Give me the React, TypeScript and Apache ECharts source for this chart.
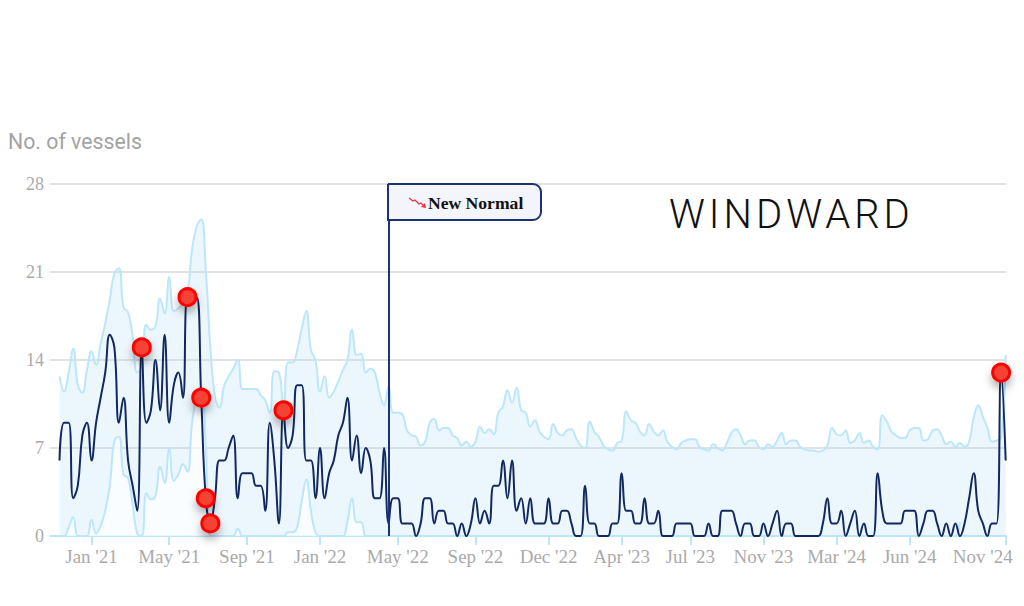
import React, { useEffect, useRef } from "react";
import * as echarts from "echarts";

const vessels = [
  6,9,9,3,4,8,9,6,9,11, 13,16,15,9,11,6,4,2,15,9, 10,14,10,16,9,12,13,11,19,19,
  19,11,3,1,3,6,6,7,8,3, 5,5,5,4,4,2,9,6,1,10, 7,8,12,12,6,6,3,7,3,5,
  6,8,9,11,6,8,5,7,6,3, 3,7,1,3,3,1,1,1,0,1, 3,3,1,2,2,1,1,0,1,0,
  1,3,1,2,1,4,4,6,3,6, 2,3,1,3,1,1,1,3,1,1, 2,2,1,0,0,4,1,1,0,0,
  0,1,1,5,2,2,1,1,3,1, 1,2,0,0,0,1,1,1,1,0, 0,0,1,0,0,2,2,2,1,0,
  1,1,0,0,1,0,1,2,0,1, 1,0,0,0,0,0,0,1,3,1, 1,2,0,1,2,0,1,0,0,5,
  2,1,1,1,1,2,2,2,0,1, 2,2,1,0,1,0,1,0,1,3, 5,2,1,0,1,1,13,6,
];
const upperBand = [
  12.7,11.5,13,14.9,12,11.4,13.2,14.7,13.6,15.3,
  16.9,18.8,20.9,21.3,18.2,17.8,15.9,13,13.5,16.8,
  16.4,16.7,18.9,17.7,20.6,17.9,18.1,18.5,19.3,22.8,
  24.6,25.2,21.2,15,11.1,10.2,11.9,12.7,13.3,14,
  11.7,11.7,11.7,11.7,11.2,10.8,9.8,13.1,13,10.3,
  13.8,13.8,14.8,16.5,17.9,14.8,14,11.5,12.7,11,
  11.5,12.3,13.2,14,16.4,14.4,14.5,13,13.3,13,
  11.4,10.4,11.9,9.8,9.8,
  9.7,8.4,8,7.9,7.2,7.5,9,9.3,8.4,8.6,
  8.6,8,7.8,7.2,7.5,7.1,7.5,8.7,8.2,8.5,
  8.1,9.8,10.3,11.6,10.6,11.8,10,9.8,8.7,9.2,
  8.3,7.9,7.7,8.9,8.2,8,8.4,8.5,7.8,7.2,
  7,9.1,8.3,7.9,7.2,6.9,6.8,7.4,7.6,9.9,
  9.2,9,8.3,8,8.9,8.3,8,8.4,7.5,7.1,
  6.9,7.4,7.6,7.7,7.7,7.1,6.9,6.8,7.3,7,
  6.8,7.4,8.2,8.5,8,7.3,7.6,7.6,7.1,6.9,
  7.3,7.1,7.6,8.2,7.3,7.6,7.6,7.1,6.9,6.8,
  6.8,6.7,6.8,7.2,8.6,8.1,8,8.4,7.4,7.6,
  8.2,7.4,7.6,7.1,6.9,9.6,9.1,8.3,8,7.8,
  7.8,8.4,8.6,8.6,7.6,7.7,8.4,8.5,8,7.3,
  7.5,7.1,7.4,7.1,7.5,9.4,10.4,9.5,8.6,7.5,
  7.6,7.8,14.4,
];
const lowerBand = [
  0,0,0.7,1.5,0,0,0,1.3,0.2,0.8,
  2,4,7.6,7.9,4.9,4.6,2.5,0.2,0,3.4,
  2.9,3.2,5.5,4.2,7,4.4,4.9,5.7,5.1,9,
  11,11.5,7,0,0,0,0,0,0,0.6,
  0,0,0,0,0,0,0,0,0,0,
  0.3,0.3,0.7,2.8,4.5,2,0.3,0,0,0,
  0,0,0,1.2,3,1.1,1.1,0,0,0,
  0,0,0,0,0,0,0,0,0,0, 0,0,0,0,0,0,0,0,0,0,
  0,0,0,0,0,0,0,0,0,0, 0,0,0,0,0,0,0,0,0,0,
  0,0,0,0,0,0,0,0,0,0, 0,0,0,0,0,0,0,0,0,0,
  0,0,0,0,0,0,0,0,0,0, 0,0,0,0,0,0,0,0,0,0,
  0,0,0,0,0,0,0,0,0,0, 0,0,0,0,0,0,0,0,0,0,
  0,0,0,0,0,0,0,0,0,0, 0,0,0,0,0,0,0,0,0,0,
  0,0,0,0,0,0,0,1.1,
];
const alertWeeks = [18, 28, 31, 32, 33, 49, 206];
const tickWeeks = [7, 24, 41, 57, 74, 91, 107, 123, 138, 154, 170, 186, 207];
// The last label sits inside the plot edge, left of its tick, as in the reference.
const labelWeeks = [7, 24, 41, 57, 74, 91, 107, 123, 138, 154, 170, 186, 202];
const tickLabels = ["Jan '21", "May '21", "Sep '21", "Jan '22", "May '22", "Sep '22", "Dec '22", "Apr '23", "Jul '23", "Nov '23", "Mar '24", "Jun '24", "Nov '24"];
const newNormalWeek = 72;

const pairs = (values: number[]) => values.map((v, i) => [i, v]);

export default function App() {
  const ref = useRef<HTMLDivElement>(null);
  useEffect(() => {
    document.body.style.margin = "0";
    const chart = echarts.init(ref.current!, undefined, { renderer: "svg" });
    const serif = "'Liberation Serif', serif";
    const band = "#bce6fb";
    chart.setOption({
      animation: false,
      backgroundColor: "#ffffff",
      title: {
        text: "No. of vessels",
        left: 8,
        top: 131,
        padding: 0,
        textStyle: { fontFamily: "Roboto", fontSize: 21.3, fontWeight: 400, color: "#a3a3a3" },
      },
      grid: { left: 50, right: 18, top: 184, bottom: 70, outerBoundsMode: "none" },
      xAxis: {
        type: "value",
        min: -2.08,
        max: 207.07,
        splitLine: { show: false },
        axisLine: { show: true, onZero: false, lineStyle: { color: band, width: 2 } },
        axisTick: { show: true, customValues: tickWeeks, length: 9, lineStyle: { color: band, width: 2 } },
        axisLabel: {
          customValues: labelWeeks,
          formatter: (v: number) => tickLabels[labelWeeks.indexOf(v)] ?? "",
          fontFamily: serif,
          fontSize: 19,
          color: "#aaaaaa",
          margin: 11,
        },
      },
      yAxis: {
        type: "value",
        min: 0,
        max: 28,
        interval: 7,
        axisLine: { show: false },
        axisTick: { show: false },
        splitLine: { lineStyle: { color: "#e2e2e2", width: 2 } },
        axisLabel: { fontFamily: serif, fontSize: 18, color: "#aaaaaa", margin: 6, padding: [4, 0, 0, 0] },
      },
      series: [
        {
          name: "Upper",
          type: "line",
          data: pairs(upperBand),
          smooth: 0.45,
          showSymbol: false,
          lineStyle: { color: band, width: 2 },
          areaStyle: { color: "rgba(170,220,248,0.22)", opacity: 1 },
          z: 2,
        },
        {
          name: "Lower",
          type: "line",
          data: pairs(lowerBand),
          smooth: 0.45,
          showSymbol: false,
          lineStyle: { color: band, width: 2 },
          areaStyle: { color: "rgba(255,255,255,0.7)", opacity: 1 },
          z: 3,
        },
        {
          name: "Vessels",
          type: "line",
          data: pairs(vessels),
          smooth: 0.45,
          showSymbol: false,
          lineStyle: { color: "#12285f", width: 2 },
          z: 4,
          markLine: {
            silent: true,
            symbol: "none",
            label: { show: false },
            lineStyle: { color: "#1b3370", width: 2, type: "solid" },
            data: [{ xAxis: newNormalWeek }],
          },
        },
        {
          name: "Alerts",
          type: "scatter",
          data: alertWeeks.map((w) => [w, vessels[w]]),
          symbolSize: 17,
          clip: false,
          itemStyle: {
            color: "#f44336",
            borderColor: "#ff0000",
            borderWidth: 3,
            opacity: 1,
            shadowBlur: 8,
            shadowColor: "rgba(0,0,0,0.3)",
            shadowOffsetY: 6,
          },
          z: 6,
        },
      ],
      graphic: [
        {
          type: "rect",
          z: 10,
          shape: { x: 388, y: 184, width: 153, height: 36, r: [0, 8, 8, 0] },
          style: { fill: "#f4f5fb", stroke: "#1b3370", lineWidth: 2 },
        },
        {
          type: "polyline",
          z: 11,
          shape: { points: [[409, 198], [413, 201], [415, 200], [419, 204], [421, 203], [425, 207]] },
          style: { fill: "none", stroke: "#f0303f", lineWidth: 1.2 },
        },
        {
          type: "polygon",
          z: 11,
          shape: { points: [[426, 208], [421, 207], [425, 203]] },
          style: { fill: "#f0303f" },
        },
        {
          type: "text",
          z: 11,
          x: 428,
          y: 203,
          style: {
            text: "New Normal",
            fontFamily: serif,
            fontWeight: "bold",
            fontSize: 17.6,
            fill: "#111111",
            verticalAlign: "middle",
          },
        },
        {
          type: "text",
          z: 11,
          x: 669,
          y: 214,
          style: {
            text: "WINDWARD",
            fontFamily: "Roboto",
            fontWeight: 300,
            fontSize: 40,
            fill: "#111111",
            verticalAlign: "middle",
          },
        },
      ],
    });
    ref.current!.querySelectorAll("text").forEach((t) => {
      if (t.textContent === "WINDWARD") (t as SVGTextElement).style.letterSpacing = "4px";
    });
    return () => chart.dispose();
  }, []);
  return <div ref={ref} style={{ width: 1024, height: 606 }} />;
}
